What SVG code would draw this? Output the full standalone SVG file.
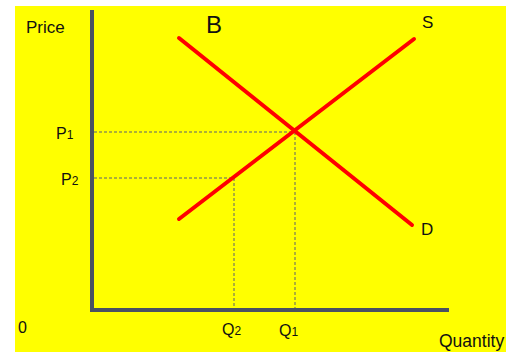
<svg xmlns="http://www.w3.org/2000/svg" width="506" height="352" viewBox="0 0 506 352">
<style>
.t{font-family:"Liberation Sans",Arial,sans-serif;fill:#111;}
.sub{font-size:12px;}
.axis{stroke:#4a5162;stroke-width:4;fill:none;stroke-linecap:square;}
.curve{stroke:#ff0000;stroke-width:4;fill:none;stroke-linecap:round;}
.dash{stroke:#5a6070;stroke-width:1;stroke-dasharray:3,2;fill:none;}
</style>
<rect x="0" y="0" width="506" height="352" fill="#ffffff"/>
<rect x="15" y="6" width="491" height="346" fill="#ffff00"/>
<g id="connectors">
<path class="dash" d="M94,132H294M295,132V308M94,178H234M234,178V308"/>
<path class="axis" d="M92,12V310H447"/>
</g>
<g id="demand">
<line class="curve" x1="179" y1="38" x2="412" y2="225"/>
<text class="t" x="421" y="235" font-size="17">D</text>
</g>
<g id="supply">
<line class="curve" x1="179" y1="219" x2="414" y2="39"/>
<text class="t" x="422" y="28" font-size="17">S</text>
</g>
<g id="labels">
<text class="t" x="26" y="33" font-size="17">Price</text>
<text class="t" x="206" y="33" font-size="24">B</text>
<text class="t" x="56" y="139" font-size="16">P<tspan class="sub">1</tspan></text>
<text class="t" x="61" y="185" font-size="16">P<tspan class="sub">2</tspan></text>
<text class="t" x="18" y="333" font-size="16">0</text>
<text class="t" x="222" y="335" font-size="16">Q<tspan class="sub">2</tspan></text>
<text class="t" x="279" y="336" font-size="16">Q<tspan class="sub">1</tspan></text>
<text class="t" x="439" y="347" font-size="17.5">Quantity</text>
</g>
</svg>
